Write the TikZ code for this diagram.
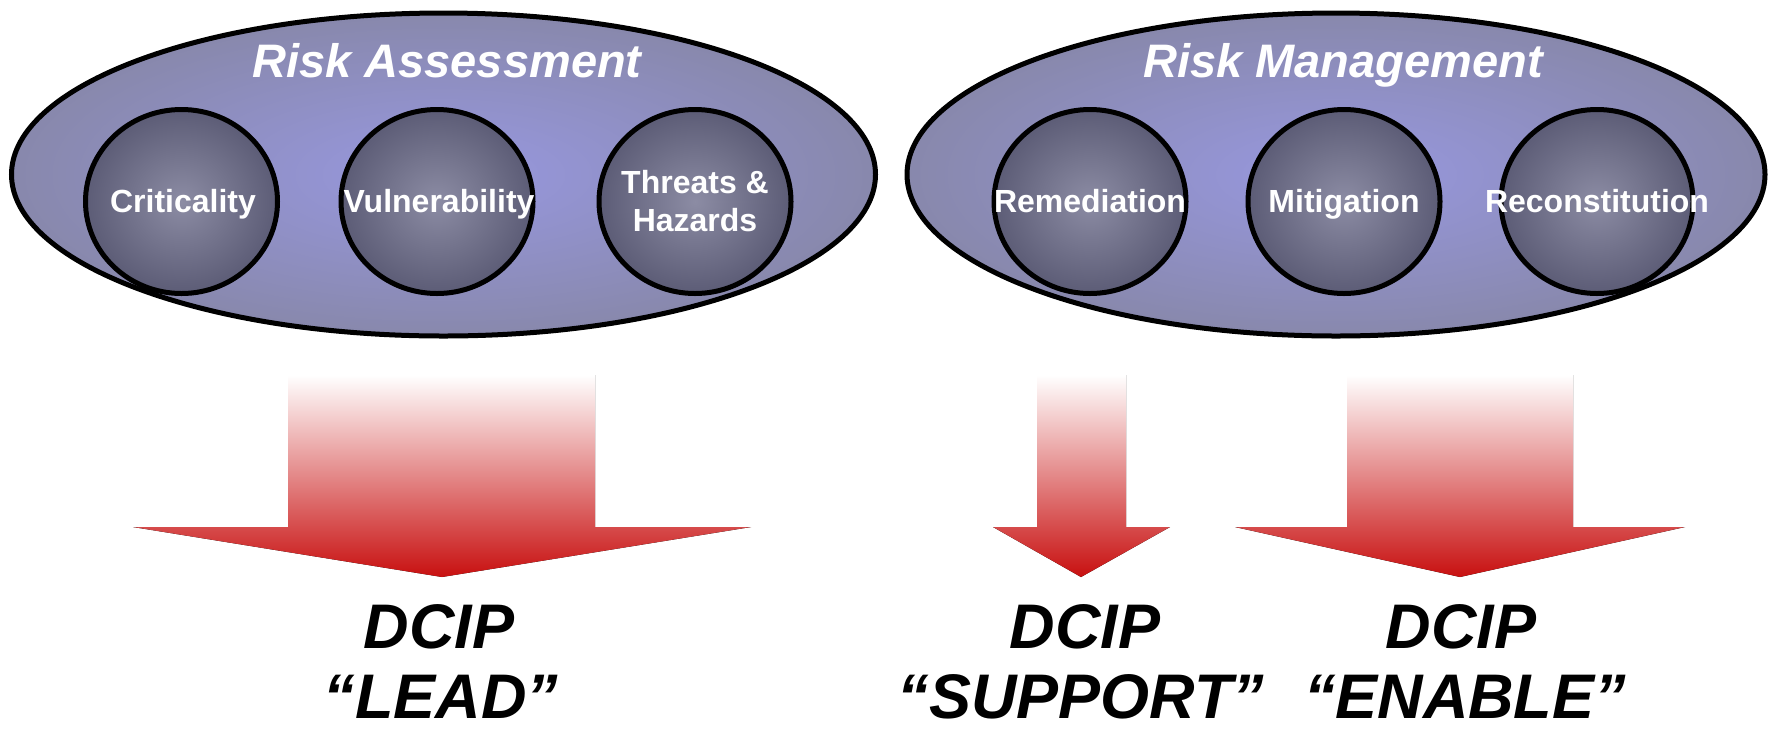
\documentclass[tikz,border=0pt]{standalone}
\usepackage{fontspec}
\setmainfont{Liberation Sans}
\usetikzlibrary{shapes.geometric}
\definecolor{outerE}{RGB}{136,136,172}
\definecolor{innerE}{RGB}{152,152,224}
\definecolor{circE}{RGB}{92,92,118}
\definecolor{circC}{RGB}{140,140,164}
\definecolor{arrR}{RGB}{200,16,16}
\begin{document}
\begin{tikzpicture}[x=1pt,y=-1pt,
  group/.style={ellipse, draw=black, line width=5pt, inner color=innerE, outer color=outerE, inner sep=0pt, minimum height=323pt},
  item/.style={ellipse, draw=black, line width=5pt, inner color=circC, outer color=circE, inner sep=0pt, minimum width=192pt, minimum height=184pt},
  grouptitle/.style={font=\fontsize{47}{56}\selectfont\bfseries\itshape, text=white, anchor=base, inner sep=0pt},
  itemlabel/.style={font=\fontsize{32}{38}\selectfont\bfseries, text=white, anchor=base, align=center, inner sep=0pt},
  roletext/.style={font=\fontsize{63}{76}\selectfont\bfseries\itshape, anchor=base, inner sep=0pt, text depth=0pt},
  blockarrow/.style={top color=white, bottom color=arrR, draw=none}]
\useasboundingbox (0,0) rectangle (1768,732);

% groups
\node[group, minimum width=864pt] (ra) at (443.5,174.5) {};
\node[group, minimum width=858pt] (rm) at (1336,174.5) {};
\node[grouptitle] (rat) at (447,77) {Risk Assessment};
\node[grouptitle] (rmt) at (1343,77) {Risk Management};

% items
\node[item] (c1) at (181.5,201.5) {};
\node[item] (c2) at (437,201.5) {};
\node[item] (c3) at (695,201.5) {};
\node[item] (c4) at (1090,201.5) {};
\node[item] (c5) at (1344,201.5) {};
\node[item] (c6) at (1597,201.5) {};
\node[itemlabel] (l1) at (183,212) {Criticality};
\node[itemlabel] (l2) at (439,212) {Vulnerability};
\node[itemlabel] (l3) at (695,231) {Threats \&\\Hazards};
\node[itemlabel] (l4) at (1090,212) {Remediation};
\node[itemlabel] (l5) at (1344,212) {Mitigation};
\node[itemlabel] (l6) at (1597,212) {Reconstitution};

% block arrows
\fill[blockarrow] (288,375) -- (595,375) -- (595,527) -- (751,527) -- (442,577) -- (133,527) -- (288,527) -- cycle;
\fill[blockarrow] (1037,375) -- (1126,375) -- (1126,527) -- (1170,527) -- (1081,577) -- (993,527) -- (1037,527) -- cycle;
\fill[blockarrow] (1347,375) -- (1573,375) -- (1573,527) -- (1685,527) -- (1460,577) -- (1235,527) -- (1347,527) -- cycle;

% roles
\node[roletext] (d1) at (439,648) {DCIP};
\node[roletext] (r1) at (441,718) {“LEAD”};
\node[roletext] (d2) at (1085,648) {DCIP};
\node[roletext] (r2) at (1081,718) {“SUPPORT”};
\node[roletext] (d3) at (1461,648) {DCIP};
\node[roletext] (r3) at (1465,718) {“ENABLE”};
\end{tikzpicture}
\end{document}
